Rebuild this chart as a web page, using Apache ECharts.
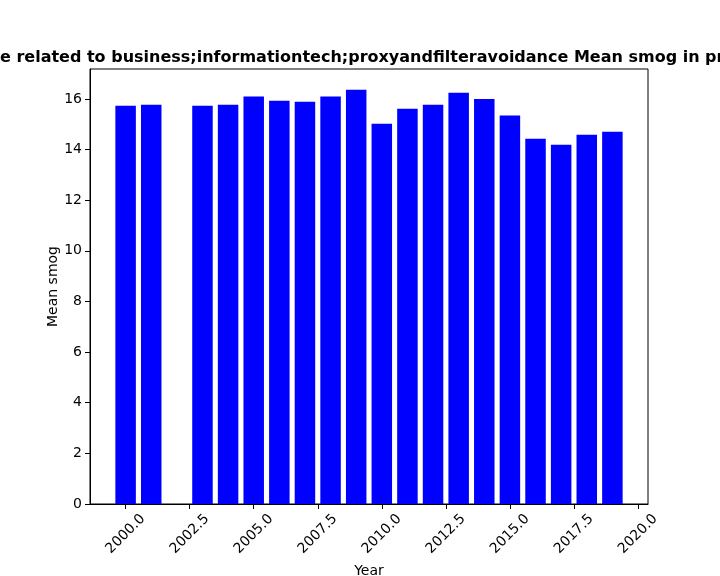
<!DOCTYPE html>
<html>
<head>
<meta charset="utf-8">
<script src="https://cdn.jsdelivr.net/npm/echarts@6/dist/echarts.min.js"></script>
<style>
html,body{margin:0;padding:0;background:#fff;}
#c{width:720px;height:576px;}
</style>
</head>
<body>
<div id="c"></div>
<script>
var years = [2000, 2001, 2003, 2004, 2005, 2006, 2007, 2008, 2009, 2010, 2011, 2012, 2013, 2014, 2015, 2016, 2017, 2018, 2019];
var values = [15.73, 15.77, 15.73, 15.77, 16.09, 15.93, 15.89, 16.09, 16.36, 15.02, 15.61, 15.77, 16.24, 16.00, 15.34, 14.43, 14.19, 14.58, 14.70];
var xTicks = [2000, 2002.5, 2005, 2007.5, 2010, 2012.5, 2015, 2017.5, 2020];
var yTicks = [0, 2, 4, 6, 8, 10, 12, 14, 16];
var titleHidden = "Websites of typ";
var titleText = "Websites of type related to business;informationtech;proxyandfilteravoidance Mean smog in previous years";

var FONT = "DejaVu Sans";
var gridL = 90, gridR = 72, gridT = 69, gridB = 72;
var xMin = 1998.61, xMax = 2020.39;
var yMax = 17.18;
var plotW = 720 - gridL - gridR;
var barW = plotW / (xMax - xMin) * 0.8;

var cv = document.createElement('canvas').getContext('2d');
cv.font = "bold 16px '" + FONT + "'";
var hiddenW = cv.measureText(titleHidden).width;

var chart = echarts.init(document.getElementById('c'), null, {renderer: 'canvas'});
chart.setOption({
  animation: false,
  backgroundColor: '#fff',
  grid: {left: gridL, right: gridR, top: gridT, bottom: gridB, show: true, borderColor: '#000', borderWidth: 1,
    backgroundColor: 'transparent', containLabel: false, outerBoundsMode: 'none'},
  graphic: [{
    type: 'text', left: -hiddenW, top: 50,
    style: {text: titleText, font: "bold 16px '" + FONT + "'", fill: '#000'}
  }],
  xAxis: {
    type: 'value', min: xMin, max: xMax,
    name: 'Year', nameLocation: 'middle', nameGap: 60, nameMoveOverlap: false,
    nameTextStyle: {fontFamily: FONT, fontSize: 14, color: '#000'},
    axisLine: {show: true, lineStyle: {color: '#000', width: 1}},
    axisTick: {show: true, length: 5, inside: false, lineStyle: {color: '#000'}, customValues: xTicks},
    axisLabel: {
      customValues: xTicks, rotate: 45, align: 'center', verticalAlign: 'middle', margin: 30,
      fontFamily: FONT, fontSize: 14, color: '#000',
      formatter: function (v) { return v.toFixed(1); }
    },
    splitLine: {show: false}
  },
  yAxis: {
    type: 'value', min: 0, max: yMax,
    name: 'Mean smog', nameLocation: 'middle', nameGap: 30, nameRotate: 90, nameMoveOverlap: false,
    nameTextStyle: {fontFamily: FONT, fontSize: 14, color: '#000'},
    axisLine: {show: true, lineStyle: {color: '#000', width: 1}},
    axisTick: {show: true, length: 5, inside: false, lineStyle: {color: '#000'}, customValues: yTicks},
    axisLabel: {customValues: yTicks, margin: 8, fontFamily: FONT, fontSize: 14, color: '#000',
      formatter: function (v) { return String(Math.round(v)); }},
    splitLine: {show: false}
  },
  series: [{
    type: 'bar',
    barWidth: barW,
    itemStyle: {color: '#0000ff'},
    data: years.map(function (y, i) { return [y, values[i]]; })
  }]
});
</script>
</body>
</html>
